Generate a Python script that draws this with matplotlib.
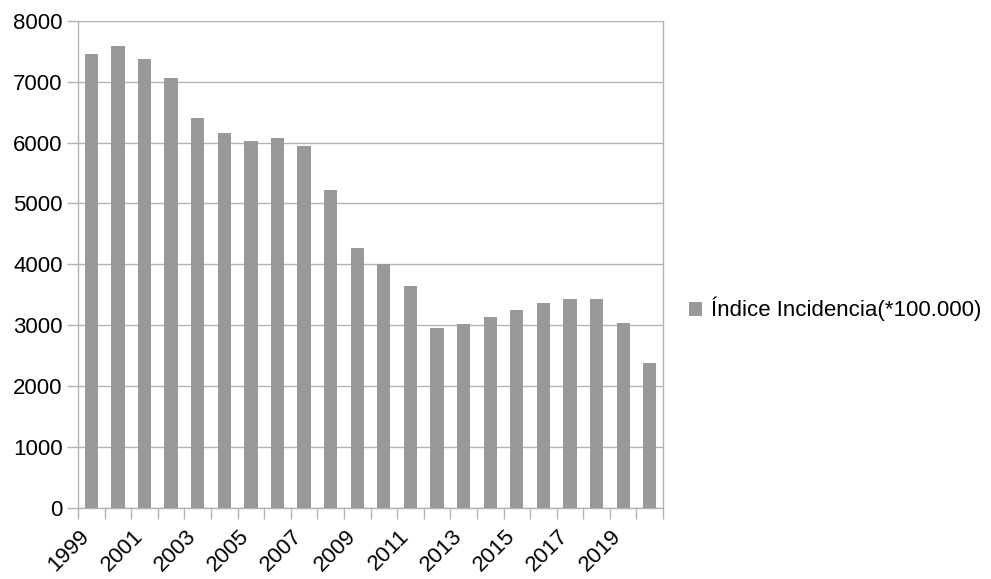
import matplotlib
matplotlib.use("Agg")
import matplotlib.pyplot as plt
from matplotlib.ticker import FixedLocator, MultipleLocator
from matplotlib.patches import Patch

plt.rcParams['font.family'] = ['Liberation Sans', 'DejaVu Sans']

years = [1999, 2000, 2001, 2002, 2003, 2004, 2005, 2006, 2007, 2008, 2009,
         2010, 2011, 2012, 2013, 2014, 2015, 2016, 2017, 2018, 2019, 2020]
incidencia = [7450, 7585, 7365, 7065, 6395, 6150, 6025, 6070, 5945, 5220, 4275,
              4000, 3645, 2950, 3015, 3130, 3255, 3360, 3425, 3425, 3040, 2375]
series_name = "Índice Incidencia(*100.000)"
label_years = [str(y) for y in years[::2]]

bar_color = "#999999"
line_color = "#b3b3b3"

fig = plt.figure(figsize=(9.91, 5.79), dpi=100)
ax = fig.add_axes([0.0787, 0.1226, 0.5904, 0.8416])

x = list(range(len(years)))
ax.bar(x, incidencia, width=0.5, color=bar_color, edgecolor="none", zorder=3)

ax.set_xlim(-0.5, len(years) - 0.5)
ax.set_ylim(0, 8000)
ax.yaxis.set_major_locator(MultipleLocator(1000))
ax.grid(axis="y", color=line_color, linewidth=1.0, zorder=0)

# category labels every other year, boundary ticks between categories
ax.xaxis.set_major_locator(FixedLocator([i + 0.1 for i in x[::2]]))
ax.set_xticklabels(label_years, rotation=45, ha="right", fontsize=16)
ax.xaxis.set_minor_locator(FixedLocator([i - 0.5 for i in range(len(years) + 1)]))
ax.tick_params(axis="x", which="major", length=0, pad=13)
ax.tick_params(axis="x", which="minor", length=8, width=1.0, color=line_color)
ax.tick_params(axis="y", length=8, width=1.0, color=line_color, labelsize=16, pad=3)

for side in ["left", "right", "bottom"]:
    ax.spines[side].set_color(line_color)
    ax.spines[side].set_linewidth(1.0)
ax.spines["top"].set_visible(False)

handle = Patch(facecolor=bar_color, edgecolor="none")
fig.legend([handle], [series_name], loc="center left",
           bbox_to_anchor=(0.675, 0.466), frameon=False, fontsize=16,
           handlelength=0.6, handleheight=0.6, handletextpad=0.4)

fig.savefig("out.png", dpi=100)
